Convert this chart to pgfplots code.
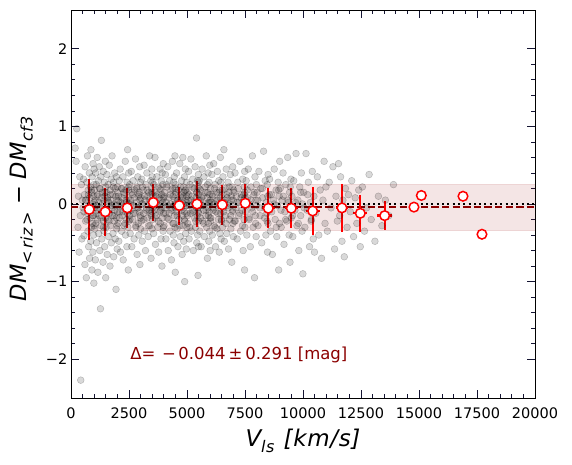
\documentclass[border=0pt]{standalone}
\usepackage{fontspec}
\setmainfont{DejaVu Sans}
\newfontfamily\mt[LetterSpace=3]{DejaVu Sans}
\usepackage{pgfplots}
\pgfplotsset{compat=1.18}
\definecolor{darkred}{RGB}{139,0,0}
\definecolor{bandc}{RGB}{165,42,42}
\definecolor{tickc}{RGB}{20,20,50}
\newcommand{\sub}[1]{\raisebox{-0.28em}{\fontsize{16}{16}\selectfont\mt\itshape #1}}
\begin{document}
\begin{tikzpicture}
\begin{axis}[
  at={(0,0)}, anchor=south west,
  scale only axis, width=464pt, height=388pt,
  xmin=0, xmax=20000, ymin=-2.5, ymax=2.5,
  xtick={0,2500,5000,7500,10000,12500,15000,17500,20000},
  xticklabels={0,2500,5000,7500,10000,12500,15000,17500,20000},
  scaled x ticks=false,
  ytick={-2,-1,0,1,2},
  yticklabels={−2,−1,0,1,2},
  minor x tick num=4, minor y tick num=4,
  tick align=inside,
  xtick pos=both, ytick pos=both, xticklabel pos=lower, yticklabel pos=left,
  major tick length=8pt, minor tick length=4pt,
  every tick/.style={tickc, line width=0.9pt},
  every minor tick/.style={tickc, line width=0.7pt},
  axis line style={black, line width=0.9pt},
  tick label style={font=\fontsize{14.5}{16}\selectfont},
  xticklabel style={inner sep=0pt, yshift=-9.7pt},
  yticklabel style={inner sep=0pt, xshift=-3.5pt},
  /pgf/number format/assume math mode=true,
  every axis x label/.style={at={(axis description cs:0.5,0)}, yshift=-43pt, anchor=center},
  every axis y label/.style={at={(axis description cs:0,0.5)}, xshift=-49.5pt, yshift=-5pt, anchor=center, rotate=90},
  xlabel={\fontsize{23}{26}\selectfont\mt\itshape V\sub{ls}\hspace{0.05em} [km/s]},
  ylabel={\fontsize{22.5}{25}\selectfont\mt\itshape DM\sub{<\,riz\,>}\hspace{0.3em}\upshape−\hspace{0.3em}\itshape DM\sub{cf3}},
  clip=true,
]
% band
\addplot[draw=bandc, draw opacity=0.2, fill=bandc, fill opacity=0.12, line width=0.8pt] coordinates {(0,-0.335) (20000,-0.335) (20000,0.247) (0,0.247)} -- cycle;
% scatter
\addplot[only marks, mark=*, mark size=3.4pt, mark options={fill=black, draw=black, fill opacity=0.15, draw opacity=0.22, line width=0.5pt}] table[row sep=\\] {
x y\\
180 0.72\\ 220 0.55\\ 250 0.97\\ 300 -0.30\\ 320 0.10\\ 350 -0.62\\ 380 0.35\\ 400 -0.15\\ 420 -2.27\\ 450 0.25\\ 470 -0.45\\ 490 0.05\\
520 -0.05\\ 540 0.32\\ 560 -0.41\\ 580 0.12\\ 600 -0.78\\ 610 0.48\\ 630 -0.22\\ 650 0.05\\ 660 -0.95\\ 680 0.28\\ 700 -0.12\\ 710 0.62\\ 730 -0.35\\ 740 0.18\\ 760 -0.55\\ 770 -0.02\\ 790 0.40\\ 800 -0.70\\ 810 0.08\\ 830 -0.18\\ 840 0.22\\ 850 -0.48\\ 860 0.70\\ 870 -0.08\\ 880 -0.30\\ 890 0.15\\ 900 -0.85\\ 910 0.35\\ 920 -0.25\\ 930 0.00\\ 940 -0.62\\ 950 0.52\\ 960 -0.15\\ 970 0.10\\ 975 -0.40\\ 980 0.25\\ 985 -1.02\\ 990 -0.05\\ 995 0.45\\ 998 -0.28\\
1010 0.18\\ 1020 -0.32\\ 1040 0.05\\ 1050 -0.72\\ 1060 0.40\\ 1080 -0.12\\ 1090 0.25\\ 1100 -0.50\\ 1110 -0.02\\ 1130 0.60\\ 1140 -0.20\\ 1150 0.12\\ 1160 -0.88\\ 1180 0.30\\ 1190 -0.38\\ 1200 0.02\\ 1210 -0.15\\ 1220 0.48\\ 1240 -0.60\\ 1250 0.20\\ 1260 -0.05\\ 1270 -1.35\\ 1280 0.35\\ 1300 -0.28\\ 1310 0.82\\ 1320 0.08\\ 1330 -0.45\\ 1350 0.15\\ 1360 -0.10\\ 1380 -0.75\\ 1390 0.42\\ 1400 -0.22\\ 1410 0.05\\ 1420 -0.35\\ 1440 0.28\\ 1450 -0.55\\ 1460 0.10\\ 1470 -0.08\\ 1480 0.55\\ 1490 -0.18\\ 1495 -0.95\\ 1498 0.22\\
1510 -0.30\\ 1520 0.15\\ 1540 -0.05\\ 1550 0.38\\ 1560 -0.65\\ 1580 0.08\\ 1590 -0.20\\ 1600 0.25\\ 1620 -0.42\\ 1630 0.02\\ 1650 0.50\\ 1660 -0.12\\ 1680 -0.80\\ 1690 0.18\\ 1700 -0.28\\ 1720 0.05\\ 1730 0.32\\ 1740 -0.50\\ 1760 -0.02\\ 1770 0.62\\ 1790 -0.15\\ 1800 0.12\\ 1810 -0.38\\ 1830 0.28\\ 1840 -0.68\\ 1850 0.00\\ 1870 -0.22\\ 1880 0.40\\ 1890 -0.08\\ 1900 0.20\\ 1910 -0.45\\ 1930 0.10\\ 1940 -1.10\\ 1950 -0.18\\ 1960 0.35\\ 1970 -0.32\\ 1980 0.05\\ 1990 -0.58\\ 1995 0.22\\ 1998 -0.10\\
2010 0.15\\ 2030 -0.25\\ 2050 0.05\\ 2060 -0.48\\ 2080 0.30\\ 2100 -0.10\\ 2120 0.45\\ 2130 -0.62\\ 2150 -0.02\\ 2170 0.20\\ 2180 -0.35\\ 2200 0.08\\ 2220 -0.15\\ 2240 0.35\\ 2250 -0.72\\ 2270 0.00\\ 2290 -0.28\\ 2300 0.12\\ 2320 -0.05\\ 2340 0.55\\ 2350 -0.40\\ 2370 0.18\\ 2390 -0.20\\ 2400 0.02\\ 2410 -0.55\\ 2420 0.28\\ 2430 -0.12\\ 2440 0.70\\ 2450 -0.30\\ 2460 0.08\\ 2470 -0.85\\ 2480 0.22\\ 2485 -0.08\\ 2490 0.40\\ 2495 -0.22\\ 2498 0.00\\
2510 -0.15\\ 2530 0.25\\ 2550 -0.38\\ 2570 0.05\\ 2590 -0.08\\ 2600 0.42\\ 2620 -0.55\\ 2640 0.12\\ 2660 -0.20\\ 2680 0.30\\ 2700 -0.02\\ 2720 -0.45\\ 2740 0.18\\ 2760 -0.12\\ 2780 0.58\\ 2800 -0.30\\ 2820 0.02\\ 2840 0.22\\ 2850 -0.65\\ 2870 -0.05\\ 2880 0.35\\ 2900 -0.25\\ 2910 0.10\\ 2920 -0.40\\ 2940 0.15\\ 2950 -0.10\\ 2960 0.48\\ 2970 -0.78\\ 2980 0.05\\ 2990 -0.18\\ 2995 0.28\\ 2998 -0.32\\
3010 0.08\\ 3030 -0.22\\ 3050 0.32\\ 3070 -0.48\\ 3090 0.00\\ 3110 0.18\\ 3130 -0.12\\ 3150 0.50\\ 3170 -0.35\\ 3190 0.05\\ 3210 -0.60\\ 3230 0.25\\ 3250 -0.05\\ 3270 0.40\\ 3290 -0.18\\ 3310 0.10\\ 3330 -0.42\\ 3350 0.15\\ 3370 -0.08\\ 3390 0.62\\ 3400 -0.28\\ 3420 0.02\\ 3440 0.30\\ 3450 -0.70\\ 3460 -0.15\\ 3470 0.20\\ 3480 -0.02\\ 3485 0.45\\ 3490 -0.32\\ 3495 0.12\\ 3498 -0.10\\ 3499 0.35\\
3510 -0.20\\ 3520 0.28\\ 3540 0.05\\ 3560 -0.38\\ 3580 0.15\\ 3600 -0.08\\ 3620 0.60\\ 3640 -0.52\\ 3660 0.10\\ 3680 -0.15\\ 3700 0.35\\ 3720 -0.02\\ 3740 -0.30\\ 3760 0.22\\ 3780 -0.62\\ 3800 0.08\\ 3820 -0.10\\ 3840 0.45\\ 3850 -0.25\\ 3860 0.00\\ 3870 0.18\\ 3880 -0.45\\ 3890 0.30\\ 3900 -0.05\\ 3910 0.12\\ 3920 -0.80\\ 3930 0.40\\ 3940 -0.18\\ 3950 0.02\\ 3960 0.25\\ 3970 -0.35\\ 3980 0.52\\ 3990 -0.12\\ 3995 0.08\\
4010 -0.28\\ 4030 0.15\\ 4050 -0.05\\ 4070 0.38\\ 4090 -0.45\\ 4110 0.02\\ 4130 0.22\\ 4150 -0.18\\ 4170 0.48\\ 4190 -0.60\\ 4210 0.08\\ 4230 -0.12\\ 4250 0.30\\ 4270 -0.35\\ 4290 0.00\\ 4310 0.18\\ 4330 -0.72\\ 4350 -0.08\\ 4370 0.55\\ 4390 -0.25\\ 4400 0.10\\ 4410 -0.40\\ 4420 0.28\\ 4430 -0.02\\ 4440 -0.50\\ 4450 0.35\\ 4460 -0.15\\ 4470 0.05\\ 4480 0.62\\ 4485 -0.30\\ 4490 0.20\\ 4495 -0.88\\ 4498 -0.05\\ 4499 0.12\\
4510 0.25\\ 4530 -0.10\\ 4550 0.40\\ 4570 -0.32\\ 4590 0.05\\ 4610 -0.55\\ 4630 0.18\\ 4650 -0.20\\ 4670 0.02\\ 4690 0.52\\ 4710 -0.42\\ 4730 0.12\\ 4750 -0.05\\ 4770 0.30\\ 4790 -0.65\\ 4800 0.08\\ 4810 -0.15\\ 4820 0.60\\ 4830 -0.28\\ 4840 0.00\\ 4850 0.22\\ 4860 -0.48\\ 4870 0.15\\ 4880 -0.10\\ 4890 0.35\\ 4900 -1.00\\ 4910 -0.22\\ 4920 0.05\\ 4930 0.45\\ 4940 -0.38\\ 4950 0.18\\ 4960 -0.02\\ 4970 -0.58\\ 4980 0.28\\ 4985 -0.12\\ 4990 0.10\\ 4995 -0.30\\ 4998 0.02\\
5010 0.15\\ 5030 -0.25\\ 5050 0.05\\ 5070 0.42\\ 5090 -0.45\\ 5110 -0.02\\ 5130 0.25\\ 5150 -0.12\\ 5170 0.58\\ 5190 -0.35\\ 5210 0.10\\ 5230 -0.08\\ 5250 0.32\\ 5270 -0.60\\ 5290 0.00\\ 5310 0.20\\ 5330 -0.18\\ 5350 0.48\\ 5370 -0.30\\ 5390 0.08\\ 5400 -0.05\\ 5410 0.85\\ 5420 -0.50\\ 5430 0.15\\ 5440 -0.15\\ 5450 0.30\\ 5460 -0.40\\ 5470 0.02\\ 5475 -0.92\\ 5480 0.22\\ 5485 -0.10\\ 5490 0.38\\ 5493 -0.22\\ 5495 0.05\\ 5496 -0.55\\ 5497 0.12\\ 5498 -0.02\\ 5499 0.28\\
5510 -0.12\\ 5530 0.30\\ 5550 -0.35\\ 5570 0.05\\ 5590 0.18\\ 5610 -0.55\\ 5630 -0.02\\ 5650 0.45\\ 5670 -0.22\\ 5690 0.10\\ 5710 -0.08\\ 5730 0.35\\ 5750 -0.42\\ 5770 0.00\\ 5790 0.22\\ 5810 -0.15\\ 5830 0.62\\ 5850 -0.30\\ 5870 0.08\\ 5880 -0.70\\ 5890 0.15\\ 5900 -0.05\\ 5910 0.40\\ 5920 -0.25\\ 5930 0.02\\ 5940 -0.48\\ 5950 0.28\\ 5960 -0.10\\ 5970 0.12\\ 5980 -0.35\\ 5985 0.50\\ 5990 -0.18\\ 5995 0.05\\ 5998 -0.60\\
6010 0.20\\ 6030 -0.18\\ 6050 0.02\\ 6070 0.38\\ 6090 -0.40\\ 6110 0.10\\ 6130 -0.08\\ 6150 0.52\\ 6170 -0.28\\ 6190 0.00\\ 6210 0.25\\ 6230 -0.55\\ 6250 -0.10\\ 6270 0.15\\ 6290 -0.32\\ 6310 0.42\\ 6330 0.05\\ 6350 -0.20\\ 6370 0.30\\ 6390 -0.62\\ 6400 -0.02\\ 6410 0.18\\ 6420 -0.38\\ 6430 0.08\\ 6440 0.60\\ 6450 -0.12\\ 6460 0.28\\ 6470 -0.45\\ 6480 0.02\\ 6490 -0.22\\
6510 0.12\\ 6530 -0.30\\ 6550 0.35\\ 6570 -0.05\\ 6590 0.70\\ 6610 -0.48\\ 6630 0.05\\ 6650 0.20\\ 6670 -0.15\\ 6690 0.45\\ 6710 -0.38\\ 6730 0.08\\ 6750 -0.02\\ 6770 0.28\\ 6790 -0.58\\ 6810 0.15\\ 6830 -0.20\\ 6850 0.00\\ 6870 0.38\\ 6890 -0.32\\ 6910 0.10\\ 6930 -0.75\\ 6950 0.22\\ 6960 -0.10\\ 6970 0.48\\ 6980 -0.25\\ 6990 0.05\\ 6995 -0.42\\
7010 0.18\\ 7040 -0.22\\ 7070 0.40\\ 7100 -0.05\\ 7130 0.10\\ 7160 -0.45\\ 7190 0.28\\ 7220 -0.15\\ 7250 0.02\\ 7280 0.55\\ 7310 -0.35\\ 7340 0.12\\ 7370 -0.08\\ 7400 0.32\\ 7420 -0.60\\ 7440 0.05\\ 7460 -0.20\\ 7470 0.22\\ 7480 -0.85\\ 7485 0.42\\ 7490 -0.02\\ 7493 0.15\\ 7496 -0.30\\ 7499 0.08\\
7520 -0.10\\ 7550 0.30\\ 7580 -0.40\\ 7610 0.08\\ 7640 0.45\\ 7670 -0.18\\ 7700 0.00\\ 7730 -0.55\\ 7760 0.22\\ 7790 -0.05\\ 7820 0.62\\ 7850 -0.30\\ 7880 0.12\\ 7910 -0.95\\ 7930 0.35\\ 7950 -0.15\\ 7970 0.05\\ 7980 -0.42\\ 7990 0.25\\ 7995 -0.02\\
8020 0.15\\ 8060 -0.28\\ 8100 0.42\\ 8140 -0.05\\ 8180 0.20\\ 8220 -0.50\\ 8260 0.08\\ 8300 0.68\\ 8340 -0.18\\ 8370 0.30\\ 8400 -0.40\\ 8420 0.02\\ 8440 -0.12\\ 8460 0.25\\ 8470 -0.62\\ 8480 0.10\\ 8490 -0.25\\ 8495 0.38\\
8520 -0.08\\ 8560 0.32\\ 8600 -0.35\\ 8640 0.12\\ 8680 -0.65\\ 8720 0.05\\ 8760 0.45\\ 8800 -0.20\\ 8840 0.18\\ 8870 -0.42\\ 8900 -0.02\\ 8930 0.28\\ 8950 -0.85\\ 8970 0.10\\ 8985 -0.25\\ 8995 0.55\\
9020 0.20\\ 9060 -0.30\\ 9100 0.05\\ 9140 0.40\\ 9180 -0.52\\ 9220 -0.10\\ 9260 0.25\\ 9300 -0.22\\ 9340 0.60\\ 9370 0.02\\ 9400 -0.40\\ 9420 0.15\\ 9440 -0.75\\ 9460 -0.05\\ 9480 0.32\\ 9495 -0.18\\
9520 0.10\\ 9560 -0.42\\ 9600 0.30\\ 9650 -0.08\\ 9700 0.65\\ 9740 -0.28\\ 9780 0.05\\ 9820 -0.60\\ 9860 0.22\\ 9900 -0.15\\ 9930 0.40\\ 9960 -0.35\\ 9980 0.00\\ 9995 -0.90\\
10030 0.15\\ 10080 -0.30\\ 10130 0.65\\ 10180 -0.08\\ 10230 0.28\\ 10280 -0.55\\ 10320 0.02\\ 10360 -0.20\\ 10400 0.42\\ 10440 -0.45\\ 10470 0.10\\ 10495 -0.62\\
10550 -0.12\\ 10620 0.35\\ 10680 -0.40\\ 10740 0.18\\ 10800 -0.70\\ 10860 0.05\\ 10910 0.55\\ 10950 -0.25\\ 10990 0.22\\
11050 -0.35\\ 11130 0.28\\ 11210 -0.05\\ 11290 0.48\\ 11360 -0.58\\ 11420 0.10\\ 11480 -0.22\\
11530 0.52\\ 11580 -0.15\\ 11620 0.35\\ 11680 -0.48\\ 11720 0.05\\ 11780 -0.68\\ 11830 0.20\\ 11900 -0.30\\ 11960 0.12\\
12040 -0.10\\ 12100 0.30\\ 12180 -0.42\\ 12250 0.08\\ 12320 -0.25\\ 12400 0.18\\ 12470 -0.55\\
12560 0.22\\ 12650 -0.35\\ 12740 -0.05\\ 12850 0.38\\ 12940 -0.20\\
13100 -0.48\\ 13250 0.10\\ 13400 -0.28\\ 13550 0.05\\ 13700 -0.15\\ 13900 0.25\\
560 -0.10\\ 620 0.05\\ 690 -0.20\\ 750 0.12\\ 820 -0.05\\ 880 0.18\\ 940 -0.15\\ 1000 0.02\\ 1070 -0.25\\ 1120 0.10\\ 1170 -0.08\\ 1230 0.20\\ 1290 -0.18\\ 1340 0.00\\ 1400 -0.30\\ 1460 0.15\\ 1520 -0.12\\ 1570 0.05\\ 1640 -0.22\\ 1700 0.12\\ 1750 -0.05\\ 1820 0.22\\ 1860 -0.15\\ 1920 -0.02\\ 1980 -0.28\\
2040 0.10\\ 2090 -0.18\\ 2140 0.02\\ 2190 0.20\\ 2230 -0.10\\ 2280 0.15\\ 2330 -0.25\\ 2380 0.05\\ 2440 -0.08\\ 2490 0.18\\ 2540 -0.20\\ 2580 0.00\\ 2630 0.15\\ 2690 -0.12\\ 2730 0.08\\ 2790 -0.28\\ 2830 0.20\\ 2890 -0.05\\ 2930 0.12\\ 2990 -0.15\\
3040 0.00\\ 3080 0.22\\ 3140 -0.20\\ 3180 0.10\\ 3240 -0.08\\ 3280 0.18\\ 3340 -0.28\\ 3380 0.05\\ 3430 -0.12\\ 3480 0.15\\ 3530 -0.05\\ 3570 0.25\\ 3630 -0.18\\ 3670 0.02\\ 3730 0.12\\ 3770 -0.22\\ 3830 0.20\\ 3880 -0.08\\ 3920 0.05\\ 3980 -0.30\\
4020 0.10\\ 4080 -0.12\\ 4120 0.25\\ 4180 -0.02\\ 4220 -0.20\\ 4280 0.12\\ 4320 -0.05\\ 4380 0.20\\ 4420 -0.25\\ 4480 0.00\\ 4520 0.15\\ 4580 -0.15\\ 4620 0.05\\ 4680 -0.28\\ 4720 0.22\\ 4780 -0.08\\ 4820 0.10\\ 4880 -0.20\\ 4920 0.18\\ 4980 -0.02\\
5020 -0.15\\ 5080 0.12\\ 5120 -0.30\\ 5180 0.05\\ 5220 0.22\\ 5280 -0.10\\ 5320 0.02\\ 5380 -0.22\\ 5420 0.15\\ 5470 -0.05\\ 5520 0.20\\ 5580 -0.18\\ 5620 0.08\\ 5680 -0.02\\ 5720 -0.25\\ 5780 0.15\\ 5820 -0.08\\ 5880 0.25\\ 5920 -0.15\\ 5980 0.02\\
6020 -0.22\\ 6080 0.12\\ 6120 -0.05\\ 6180 0.20\\ 6220 -0.30\\ 6280 0.05\\ 6320 -0.12\\ 6380 0.15\\ 6420 -0.02\\ 6480 -0.20\\ 6520 0.18\\ 6580 -0.10\\ 6620 0.02\\ 6680 -0.25\\ 6720 0.12\\ 6780 -0.05\\ 6820 0.22\\ 6880 -0.15\\ 6920 0.05\\ 6980 -0.08\\
7030 0.15\\ 7080 -0.22\\ 7150 0.02\\ 7210 0.20\\ 7270 -0.12\\ 7330 0.08\\ 7390 -0.28\\ 7450 0.12\\ 7530 -0.02\\ 7600 0.18\\ 7680 -0.20\\ 7750 0.05\\ 7830 -0.10\\ 7900 0.15\\ 7960 -0.25\\
8050 0.05\\ 8150 -0.15\\ 8250 0.20\\ 8350 -0.05\\ 8450 -0.22\\ 8550 0.12\\ 8650 -0.10\\ 8750 0.00\\ 8850 -0.30\\ 8950 0.18\\ 9050 -0.08\\ 9150 0.10\\ 9250 -0.20\\ 9350 0.05\\ 9450 0.22\\ 9550 -0.15\\ 9680 0.02\\ 9800 -0.25\\ 9900 0.15\\ 10050 -0.05\\ 10200 0.12\\ 10350 -0.22\\
};
% reference lines
\addplot[black, line width=2pt, dash pattern=on 2pt off 3.3pt] coordinates {(0,0) (20000,0)};
\addplot[darkred, line width=2pt, dash pattern=on 7.4pt off 3.2pt] coordinates {(0,-0.044) (20000,-0.044)};
% binned points with error bars
\addplot[only marks, mark=*, mark size=4.8pt, mark options={fill=white, draw=red, line width=1.5pt},
  error bars/.cd, x dir=both, x explicit, y dir=both, y explicit,
  error bar style={red, line width=2.3pt}, error mark=none]
  table[x=x, y=y, x error=ex, y error=ey, row sep=\\] {
x y ex ey\\
789 -0.07 250 0.39\\
1479 -0.10 300 0.31\\
2427 -0.05 250 0.26\\
3548 0.02 220 0.235\\
4668 -0.02 250 0.245\\
5431 0.00 220 0.29\\
6522 -0.01 250 0.26\\
7513 0.01 250 0.25\\
8505 -0.055 270 0.26\\
9496 -0.055 280 0.26\\
10417 -0.09 300 0.31\\
11680 -0.05 270 0.31\\
12470 -0.12 300 0.24\\
13520 -0.15 330 0.19\\
};
\addplot[only marks, mark=*, mark size=4.8pt, mark options={fill=white, draw=red, line width=1.5pt}] coordinates {
(14783,-0.04) (15100,0.11) (16896,0.10) (17714,-0.39)};
\node[anchor=west, text=darkred, font=\fontsize{16.5}{18}\selectfont, inner sep=0pt] at (axis cs:2550,-1.94) {Δ=\hspace{0.4em}−\hspace{0.15em}0.044\hspace{0.18em}±\hspace{0.18em}0.291 [mag]};
\end{axis}
\path[use as bounding box] (-71pt,-67pt) rectangle (501pt,398pt);
\end{tikzpicture}
\end{document}
